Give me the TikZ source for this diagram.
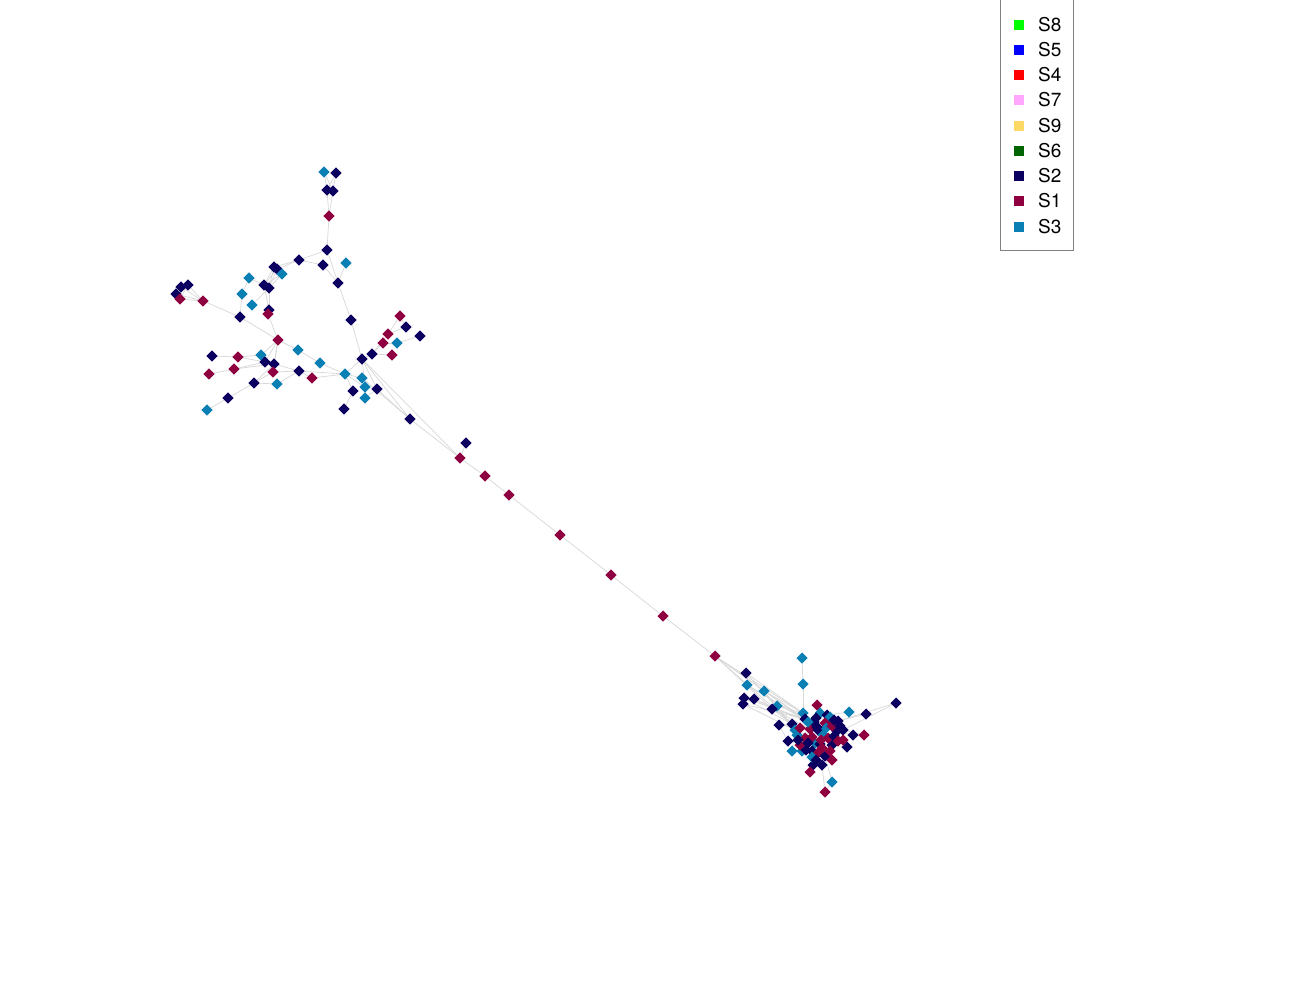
\documentclass[tikz,border=0pt]{standalone}
\usepackage{fontspec}
\setmainfont{TeX Gyre Heros}
\pgfdeclarelayer{background}
\pgfdeclarelayer{canvas}
\pgfsetlayers{canvas,background,main}
\definecolor{cS8}{HTML}{00FF00}
\definecolor{cS5}{HTML}{0000FF}
\definecolor{cS4}{HTML}{FF0000}
\definecolor{cS7}{HTML}{FFA6FF}
\definecolor{cS9}{HTML}{FFD966}
\definecolor{cS6}{HTML}{006400}
\definecolor{cS2}{HTML}{0B0060}
\definecolor{cS1}{HTML}{8E0040}
\definecolor{cS3}{HTML}{0A7FB4}
\definecolor{edgegray}{HTML}{D8D8D8}
\definecolor{boxgray}{HTML}{808080}
\tikzset{
  dia/.style={rectangle, rotate=45, minimum size=7.8pt, inner sep=0pt, draw=none},
  edge/.style={draw=edgegray, line width=0.7pt},
  legsq/.style={rectangle, minimum size=10pt, inner sep=0pt, draw=none},
  legtext/.style={anchor=west, inner sep=0pt, font=\fontsize{19}{19}\selectfont}
}
\begin{document}
\begin{tikzpicture}[x=1pt,y=-1pt]
\useasboundingbox (0,0) rectangle (1300,1000);
\begin{pgfonlayer}{canvas}
\fill[white] (0,0) rectangle (1300,1000);
\end{pgfonlayer}
% left cluster
\foreach \n/\x/\y/\c in {
a1/324/172/cS3, a2/336/173/cS2, a3/327/190/cS2, a4/333/191/cS2, a5/329/216/cS1,
a6/327/250/cS2, a7/299/260/cS2, a8/323/265/cS2, a9/346/263/cS3, a10/338/283/cS2,
a11/274/267/cS2, a12/277/269/cS2, a13/282/274/cS3, a14/249/278/cS3, a15/264/285/cS2,
a16/269/288/cS2, a17/242/294/cS3, a18/181/287/cS2, a19/188/285/cS2, a20/176/294/cS2,
a21/180/299/cS1, a22/203/301/cS1, a23/252/305/cS3, a24/269/310/cS2, a25/268/314/cS1,
a26/240/317/cS2, a27/351/320/cS2, a28/400/316/cS1, a29/406/327/cS2, a30/420/336/cS2,
a31/388/334/cS1, a32/383/343/cS1, a33/397/343/cS3, a34/392/355/cS1, a35/372/354/cS2,
a36/362/359/cS2, a37/278/340/cS1, a38/298/350/cS3, a39/320/363/cS3, a40/212/356/cS2,
a41/238/357/cS1, a42/261/355/cS3, a43/265/362/cS2, a44/274/364/cS2, a45/234/369/cS1,
a46/209/374/cS1, a47/273/372/cS1, a48/299/371/cS2, a49/312/378/cS1, a50/345/374/cS3,
a51/362/378/cS3, a52/254/383/cS2, a53/277/384/cS3, a54/353/391/cS2, a55/365/387/cS3,
a56/377/389/cS2, a57/365/398/cS3, a58/228/398/cS2, a59/207/410/cS3, a60/344/409/cS2,
a61/410/419/cS2,
b1/466/443/cS2, b2/460/458/cS1, b3/485/476/cS1, b4/509/495/cS1, b5/560/535/cS1,
b6/611/575/cS1, b7/663/616/cS1, b8/715/656/cS1}
  \node[dia, fill=\c] (\n) at (\x,\y) {};
% right cluster
\foreach \n/\x/\y/\c in {
c1/802/658/cS3, c2/803/684/cS3, c3/746/673/cS2, c4/747/685/cS3, c5/764/691/cS3,
c6/744/698/cS2, c7/754/699/cS2, c8/743/704/cS2, c9/777/706/cS3, c10/772/709/cS2,
c11/779/725/cS2, c12/792/724/cS2, c13/795/730/cS3, c14/788/741/cS2, c15/792/751/cS3,
c16/802/751/cS3, c17/817/705/cS1, c18/849/712/cS3, c19/866/714/cS2, c20/896/703/cS2,
c21/864/735/cS1, c22/853/735/cS2, c23/847/747/cS2, c24/832/760/cS1, c25/822/765/cS2,
c26/813/765/cS2, c27/810/772/cS1, c28/832/782/cS3, c29/825/792/cS1,
c30/803/713/cS3, c31/805/719/cS2, c32/820/713/cS3, c33/827/715/cS2, c34/830/717/cS3,
c35/838/721/cS2, c36/810/729/cS1, c37/818/730/cS2, c38/823/735/cS3, c39/837/731/cS2,
c40/843/730/cS2, c41/843/740/cS1, c42/800/745/cS1, c43/815/743/cS3, c44/832/745/cS2,
c45/812/751/cS2, c46/818/753/cS1, c47/825/756/cS2, c48/805/738/cS1, c49/828/738/cS1,
c50/814/722/cS2, c51/825/723/cS1, c52/808/722/cS3, c53/820/744/cS2, c54/812/737/cS1,
c55/826/728/cS3, c56/834/736/cS2, c57/822/748/cS1, c58/797/735/cS3, c59/806/750/cS2,
c60/838/741/cS1, c61/817/727/cS2, c62/812/757/cS3,
c63/800/728/cS1, c64/816/718/cS2, c65/832/726/cS1, c66/808/743/cS2, c67/830/751/cS1,
c68/840/726/cS2, c69/821/740/cS1, c70/798/740/cS2, c71/834/720/cS2, c72/816/760/cS2}
  \node[dia, fill=\c] (\n) at (\x,\y) {};
\begin{pgfonlayer}{background}
\foreach \p/\q in {
a1/a3, a1/a4, a2/a3, a2/a4, a3/a5, a4/a5, a5/a6, a6/a7, a6/a10, a7/a8, a8/a10,
a9/a10, a7/a11, a7/a12, a10/a27, a27/a36, a11/a15, a11/a16, a12/a15, a12/a16,
a13/a15, a13/a16, a13/a11, a14/a15, a14/a17, a17/a26, a16/a24, a15/a24, a24/a25,
a25/a37, a18/a22, a19/a22, a20/a22, a21/a22, a18/a21, a19/a21, a22/a26, a26/a37,
a23/a16, a37/a38, a38/a39, a39/a50, a37/a42, a37/a43, a37/a44, a37/a47, a40/a41,
a41/a42, a41/a43, a45/a43, a46/a45, a45/a44, a42/a43, a44/a48, a47/a48, a48/a49,
a49/a50, a48/a50, a52/a47, a52/a53, a52/a44, a52/a58, a58/a59, a53/a48, a50/a36,
a50/a54, a50/a55, a54/a60, a36/a55, a36/a56, a36/a35, a56/a57, a55/a57, a56/a61,
a36/a61, a35/a32, a35/a31, a35/a34, a32/a33, a33/a30, a31/a28, a31/a29, a29/a28,
a61/b2, a36/b2, b1/b2, b2/b3, b3/b4, b4/b5, b5/b6, b6/b7, b7/b8, a50/a51, a51/a61,
b8/c10, b8/c31, b8/c12, b8/c30, b8/c52, c3/c30, c3/c12, c4/c31, c4/c52, c5/c30,
c5/c13, c6/c31, c6/c12, c7/c52, c7/c36, c8/c31, c8/c13, c9/c30, c10/c31, c10/c12,
c1/c2, c2/c30, c20/c35, c19/c35, c18/c33, c20/c40, c28/c29, c28/c47, c29/c25,
c14/c11, c11/c36, c15/c13, c16/c48, c17/c32, c21/c40, c22/c39, c23/c44, c24/c47,
c26/c45, c27/c45, c12/c36, c13/c54, c30/c37, c31/c51, c32/c55, c33/c39, c34/c56,
c36/c38, c37/c53, c38/c44, c42/c43, c43/c46, c45/c57, c48/c49, c50/c61, c52/c59,
c58/c54, c60/c41, c62/c46}
  \draw[edge] (\p.center) -- (\q.center);
\end{pgfonlayer}
% legend
\node[draw=boxgray, line width=0.9pt, rectangle, minimum width=73pt, minimum height=255pt, inner sep=0pt, anchor=south west] (legbox) at (1000,251) {};
\foreach \k/\lab/\y in {1/S8/25, 2/S5/50, 3/S4/75, 4/S7/100, 5/S9/126, 6/S6/151, 7/S2/176, 8/S1/201, 9/S3/227} {
  \node[legsq, fill=c\lab] (lq\k) at (1019,\y) {};
  \node[legtext] (lt\k) at (1038,\y) {\lab};
}
\end{tikzpicture}
\end{document}
